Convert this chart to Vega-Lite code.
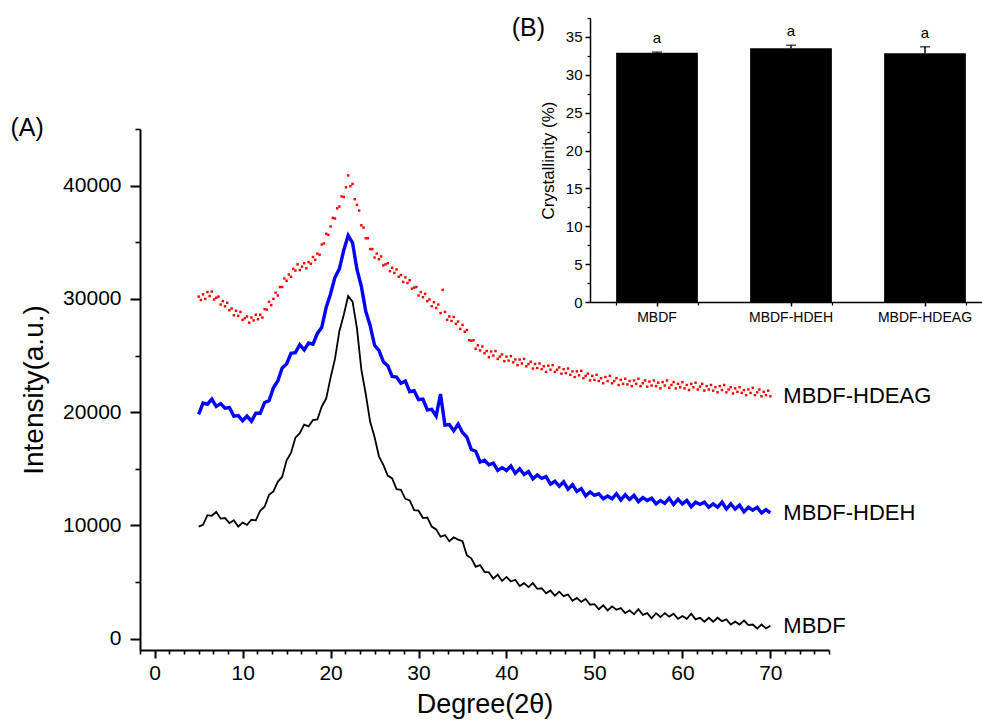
{
"$schema": "https://vega.github.io/schema/vega-lite/v6.json",
"width": 689,
"height": 521,
"autosize": {"type": "none"},
"padding": {"left": 140, "top": 129, "right": 153, "bottom": 76},
"background": "white",
"config": {
  "view": {"stroke": null},
  "axis": {"grid": false, "domainColor": "#000", "tickColor": "#000", "labelColor": "#000", "titleColor": "#000", "labelFont": "Liberation Sans", "titleFont": "Liberation Sans", "titleFontWeight": "normal"},
  "text": {"font": "Liberation Sans", "color": "#000"}
},
"datasets": {
  "mbdf": [
    {"degree":5,"intensity":9900},{"degree":5.5,"intensity":10050},{"degree":6,"intensity":10900},{"degree":6.5,"intensity":10850},{"degree":7,"intensity":11200},{"degree":7.5,"intensity":10600},{"degree":8,"intensity":10650},{"degree":8.5,"intensity":10200},{"degree":9,"intensity":10450},{"degree":9.5,"intensity":9900},
    {"degree":10,"intensity":10250},{"degree":10.5,"intensity":10050},{"degree":11,"intensity":10500},{"degree":11.5,"intensity":10450},{"degree":12,"intensity":11300},{"degree":12.5,"intensity":11650},{"degree":13,"intensity":12700},{"degree":13.5,"intensity":13000},{"degree":14,"intensity":13850},{"degree":14.5,"intensity":14300},
    {"degree":15,"intensity":15750},{"degree":15.5,"intensity":16400},{"degree":16,"intensity":17750},{"degree":16.5,"intensity":18150},{"degree":17,"intensity":18900},{"degree":17.5,"intensity":18750},{"degree":18,"intensity":19300},{"degree":18.5,"intensity":19350},{"degree":19,"intensity":20500},{"degree":19.5,"intensity":21200},
    {"degree":20,"intensity":23050},{"degree":20.5,"intensity":24700},{"degree":21,"intensity":27150},{"degree":21.5,"intensity":28600},{"degree":22,"intensity":30250},{"degree":22.5,"intensity":29750},{"degree":23,"intensity":27400},{"degree":23.5,"intensity":23750},{"degree":24,"intensity":21600},{"degree":24.5,"intensity":19150},
    {"degree":25,"intensity":17800},{"degree":25.5,"intensity":16100},{"degree":26,"intensity":15350},{"degree":26.5,"intensity":14400},{"degree":27,"intensity":14150},{"degree":27.5,"intensity":13200},{"degree":28,"intensity":13150},{"degree":28.5,"intensity":12350},{"degree":29,"intensity":12200},{"degree":29.5,"intensity":11350},
    {"degree":30,"intensity":11300},{"degree":30.5,"intensity":10650},{"degree":31,"intensity":10700},{"degree":31.5,"intensity":9900},{"degree":32,"intensity":9650},{"degree":32.5,"intensity":9000},{"degree":33,"intensity":9150},{"degree":33.5,"intensity":8600},{"degree":34,"intensity":8950},{"degree":34.5,"intensity":8750},
    {"degree":35,"intensity":8600},{"degree":35.5,"intensity":7350},{"degree":36,"intensity":7100},{"degree":36.5,"intensity":6350},{"degree":37,"intensity":6500},{"degree":37.5,"intensity":5900},{"degree":38,"intensity":5850},{"degree":38.5,"intensity":5300},{"degree":39,"intensity":5650},{"degree":39.5,"intensity":5100},
    {"degree":40,"intensity":5450},{"degree":40.5,"intensity":5050},{"degree":41,"intensity":5200},{"degree":41.5,"intensity":4650},{"degree":42,"intensity":4900},{"degree":42.5,"intensity":4550},{"degree":43,"intensity":4900},{"degree":43.5,"intensity":4400},{"degree":44,"intensity":4450},{"degree":44.5,"intensity":4000},
    {"degree":45,"intensity":4250},{"degree":45.5,"intensity":3800},{"degree":46,"intensity":4150},{"degree":46.5,"intensity":3750},{"degree":47,"intensity":3900},{"degree":47.5,"intensity":3350},{"degree":48,"intensity":3600},{"degree":48.5,"intensity":3250},{"degree":49,"intensity":3500},{"degree":49.5,"intensity":3000},
    {"degree":50,"intensity":3050},{"degree":50.5,"intensity":2600},{"degree":51,"intensity":2950},{"degree":51.5,"intensity":2500},{"degree":52,"intensity":2850},{"degree":52.5,"intensity":2550},{"degree":53,"intensity":2700},{"degree":53.5,"intensity":2250},{"degree":54,"intensity":2500},{"degree":54.5,"intensity":2150},
    {"degree":55,"intensity":2600},{"degree":55.5,"intensity":2100},{"degree":56,"intensity":2250},{"degree":56.5,"intensity":1800},{"degree":57,"intensity":2250},{"degree":57.5,"intensity":1900},{"degree":58,"intensity":2250},{"degree":58.5,"intensity":1950},{"degree":59,"intensity":2200},{"degree":59.5,"intensity":1750},
    {"degree":60,"intensity":2000},{"degree":60.5,"intensity":1750},{"degree":61,"intensity":2200},{"degree":61.5,"intensity":1700},{"degree":62,"intensity":1850},{"degree":62.5,"intensity":1500},{"degree":63,"intensity":1850},{"degree":63.5,"intensity":1500},{"degree":64,"intensity":1850},{"degree":64.5,"intensity":1550},
    {"degree":65,"intensity":1700},{"degree":65.5,"intensity":1250},{"degree":66,"intensity":1500},{"degree":66.5,"intensity":1250},{"degree":67,"intensity":1600},{"degree":67.5,"intensity":1200},{"degree":68,"intensity":1250},{"degree":68.5,"intensity":900},{"degree":69,"intensity":1250},{"degree":69.5,"intensity":900},
    {"degree":70,"intensity":1150}
  ],
  "hdeh": [
    {"degree":5,"intensity":19800},{"degree":5.5,"intensity":20800},{"degree":6,"intensity":20700},{"degree":6.5,"intensity":21150},{"degree":7,"intensity":20500},{"degree":7.5,"intensity":20750},{"degree":8,"intensity":20350},{"degree":8.5,"intensity":20400},{"degree":9,"intensity":19650},{"degree":9.5,"intensity":19700},
    {"degree":10,"intensity":19250},{"degree":10.5,"intensity":19650},{"degree":11,"intensity":19200},{"degree":11.5,"intensity":19900},{"degree":12,"intensity":19900},{"degree":12.5,"intensity":20850},{"degree":13,"intensity":21000},{"degree":13.5,"intensity":22150},{"degree":14,"intensity":22750},{"degree":14.5,"intensity":23900},
    {"degree":15,"intensity":24250},{"degree":15.5,"intensity":25200},{"degree":16,"intensity":25250},{"degree":16.5,"intensity":25950},{"degree":17,"intensity":25500},{"degree":17.5,"intensity":26100},{"degree":18,"intensity":26000},{"degree":18.5,"intensity":26950},{"degree":19,"intensity":27500},{"degree":19.5,"intensity":29250},
    {"degree":20,"intensity":30450},{"degree":20.5,"intensity":31900},{"degree":21,"intensity":32650},{"degree":21.5,"intensity":34300},{"degree":22,"intensity":35600},{"degree":22.5,"intensity":34950},{"degree":23,"intensity":32600},{"degree":23.5,"intensity":31100},{"degree":24,"intensity":28900},{"degree":24.5,"intensity":27650},
    {"degree":25,"intensity":25900},{"degree":25.5,"intensity":25450},{"degree":26,"intensity":24450},{"degree":26.5,"intensity":24100},{"degree":27,"intensity":23150},{"degree":27.5,"intensity":23100},{"degree":28,"intensity":22550},{"degree":28.5,"intensity":22750},{"degree":29,"intensity":21800},{"degree":29.5,"intensity":21900},
    {"degree":30,"intensity":21100},{"degree":30.5,"intensity":21150},{"degree":31,"intensity":20200},{"degree":31.5,"intensity":20250},{"degree":32,"intensity":19650},{"degree":32.5,"intensity":21600},{"degree":33,"intensity":18850},{"degree":33.5,"intensity":18900},{"degree":34,"intensity":18350},{"degree":34.5,"intensity":18950},
    {"degree":35,"intensity":18200},{"degree":35.5,"intensity":17800},{"degree":36,"intensity":16700},{"degree":36.5,"intensity":16550},{"degree":37,"intensity":15600},{"degree":37.5,"intensity":15750},{"degree":38,"intensity":15350},{"degree":38.5,"intensity":15500},{"degree":39,"intensity":14850},{"degree":39.5,"intensity":15100},
    {"degree":40,"intensity":14850},{"degree":40.5,"intensity":15250},{"degree":41,"intensity":14600},{"degree":41.5,"intensity":15000},{"degree":42,"intensity":14500},{"degree":42.5,"intensity":14750},{"degree":43,"intensity":14100},{"degree":43.5,"intensity":14450},{"degree":44,"intensity":14150},{"degree":44.5,"intensity":14300},
    {"degree":45,"intensity":13650},{"degree":45.5,"intensity":13900},{"degree":46,"intensity":13450},{"degree":46.5,"intensity":13850},{"degree":47,"intensity":13200},{"degree":47.5,"intensity":13600},{"degree":48,"intensity":13000},{"degree":48.5,"intensity":13250},{"degree":49,"intensity":12600},{"degree":49.5,"intensity":12950},
    {"degree":50,"intensity":12650},{"degree":50.5,"intensity":12800},{"degree":51,"intensity":12350},{"degree":51.5,"intensity":12600},{"degree":52,"intensity":12350},{"degree":52.5,"intensity":12800},{"degree":53,"intensity":12250},{"degree":53.5,"intensity":12700},{"degree":54,"intensity":12300},{"degree":54.5,"intensity":12650},
    {"degree":55,"intensity":12100},{"degree":55.5,"intensity":12450},{"degree":56,"intensity":12200},{"degree":56.5,"intensity":12400},{"degree":57,"intensity":11900},{"degree":57.5,"intensity":12200},{"degree":58,"intensity":11950},{"degree":58.5,"intensity":12400},{"degree":59,"intensity":11850},{"degree":59.5,"intensity":12300},
    {"degree":60,"intensity":11900},{"degree":60.5,"intensity":12200},{"degree":61,"intensity":11650},{"degree":61.5,"intensity":12050},{"degree":62,"intensity":11850},{"degree":62.5,"intensity":12050},{"degree":63,"intensity":11600},{"degree":63.5,"intensity":11900},{"degree":64,"intensity":11600},{"degree":64.5,"intensity":12050},
    {"degree":65,"intensity":11450},{"degree":65.5,"intensity":11900},{"degree":66,"intensity":11450},{"degree":66.5,"intensity":11800},{"degree":67,"intensity":11200},{"degree":67.5,"intensity":11600},{"degree":68,"intensity":11350},{"degree":68.5,"intensity":11600},{"degree":69,"intensity":11100},{"degree":69.5,"intensity":11400},
    {"degree":70,"intensity":11100}
  ],
  "hdeag": [
    {"degree":5,"intensity":30200},{"degree":5.25,"intensity":29900},{"degree":5.5,"intensity":30400},{"degree":5.75,"intensity":30000},{"degree":6,"intensity":30600},{"degree":6.25,"intensity":30250},{"degree":6.5,"intensity":30650},{"degree":6.75,"intensity":29950},{"degree":7,"intensity":30100},{"degree":7.25,"intensity":30200},
    {"degree":7.5,"intensity":29500},{"degree":7.75,"intensity":29800},{"degree":8,"intensity":29350},{"degree":8.25,"intensity":29650},{"degree":8.5,"intensity":29000},{"degree":8.75,"intensity":29150},{"degree":9,"intensity":28550},{"degree":9.25,"intensity":28950},{"degree":9.5,"intensity":28500},{"degree":9.75,"intensity":28850},
    {"degree":10,"intensity":28150},{"degree":10.25,"intensity":28300},{"degree":10.5,"intensity":28450},{"degree":10.75,"intensity":27900},{"degree":11,"intensity":28350},{"degree":11.25,"intensity":28100},{"degree":11.5,"intensity":28600},{"degree":11.75,"intensity":28200},{"degree":12,"intensity":28600},{"degree":12.25,"intensity":28350},
    {"degree":12.5,"intensity":29100},{"degree":12.75,"intensity":29050},{"degree":13,"intensity":29750},{"degree":13.25,"intensity":29450},{"degree":13.5,"intensity":30000},{"degree":13.75,"intensity":30550},{"degree":14,"intensity":30300},{"degree":14.25,"intensity":31050},{"degree":14.5,"intensity":31050},{"degree":14.75,"intensity":31800},
    {"degree":15,"intensity":31600},{"degree":15.25,"intensity":32150},{"degree":15.5,"intensity":31950},{"degree":15.75,"intensity":32650},{"degree":16,"intensity":32500},{"degree":16.25,"intensity":33050},{"degree":16.5,"intensity":32550},{"degree":16.75,"intensity":32850},{"degree":17,"intensity":33150},{"degree":17.25,"intensity":32700},
    {"degree":17.5,"intensity":33250},{"degree":17.75,"intensity":33100},{"degree":18,"intensity":33700},{"degree":18.25,"intensity":33450},{"degree":18.5,"intensity":34000},{"degree":18.75,"intensity":33900},{"degree":19,"intensity":34800},{"degree":19.25,"intensity":34900},{"degree":19.5,"intensity":35750},{"degree":19.75,"intensity":35650},
    {"degree":20,"intensity":36400},{"degree":20.25,"intensity":37150},{"degree":20.5,"intensity":37100},{"degree":20.75,"intensity":38000},{"degree":21,"intensity":38150},{"degree":21.25,"intensity":39050},{"degree":21.5,"intensity":39000},{"degree":21.75,"intensity":39850},{"degree":22,"intensity":40900},{"degree":22.25,"intensity":39950},
    {"degree":22.5,"intensity":40150},{"degree":22.75,"intensity":38800},{"degree":23,"intensity":38300},{"degree":23.25,"intensity":37800},{"degree":23.5,"intensity":36500},{"degree":23.75,"intensity":36300},{"degree":24,"intensity":35350},{"degree":24.25,"intensity":35350},{"degree":24.5,"intensity":34400},{"degree":24.75,"intensity":34400},
    {"degree":25,"intensity":33650},{"degree":25.25,"intensity":34000},{"degree":25.5,"intensity":33500},{"degree":25.75,"intensity":33750},{"degree":26,"intensity":32950},{"degree":26.25,"intensity":33050},{"degree":26.5,"intensity":33150},{"degree":26.75,"intensity":32450},{"degree":27,"intensity":32750},{"degree":27.25,"intensity":32300},
    {"degree":27.5,"intensity":32600},{"degree":27.75,"intensity":31950},{"degree":28,"intensity":32100},{"degree":28.25,"intensity":31500},{"degree":28.5,"intensity":31900},{"degree":28.75,"intensity":31400},{"degree":29,"intensity":31650},{"degree":29.25,"intensity":30900},{"degree":29.5,"intensity":31000},{"degree":29.75,"intensity":31050},
    {"degree":30,"intensity":30300},{"degree":30.25,"intensity":30600},{"degree":30.5,"intensity":30150},{"degree":30.75,"intensity":30450},{"degree":31,"intensity":29800},{"degree":31.25,"intensity":29950},{"degree":31.5,"intensity":29350},{"degree":31.75,"intensity":29700},{"degree":32,"intensity":29200},{"degree":32.25,"intensity":29500},
    {"degree":32.5,"intensity":28750},{"degree":32.75,"intensity":30800},{"degree":33,"intensity":28850},{"degree":33.25,"intensity":28150},{"degree":33.5,"intensity":28450},{"degree":33.75,"intensity":28050},{"degree":34,"intensity":28400},{"degree":34.25,"intensity":27800},{"degree":34.5,"intensity":28000},{"degree":34.75,"intensity":27350},
    {"degree":35,"intensity":27700},{"degree":35.25,"intensity":27100},{"degree":35.5,"intensity":27250},{"degree":35.75,"intensity":26350},{"degree":36,"intensity":26300},{"degree":36.25,"intensity":26350},{"degree":36.5,"intensity":25600},{"degree":36.75,"intensity":25900},{"degree":37,"intensity":25450},{"degree":37.25,"intensity":25800},
    {"degree":37.5,"intensity":25200},{"degree":37.75,"intensity":25400},{"degree":38,"intensity":24850},{"degree":38.25,"intensity":25350},{"degree":38.5,"intensity":25000},{"degree":38.75,"intensity":25400},{"degree":39,"intensity":24700},{"degree":39.25,"intensity":24900},{"degree":39.5,"intensity":25100},{"degree":39.75,"intensity":24500},
    {"degree":40,"intensity":24900},{"degree":40.25,"intensity":24550},{"degree":40.5,"intensity":24950},{"degree":40.75,"intensity":24400},{"degree":41,"intensity":24650},{"degree":41.25,"intensity":24150},{"degree":41.5,"intensity":24650},{"degree":41.75,"intensity":24300},{"degree":42,"intensity":24700},{"degree":42.25,"intensity":24050},
    {"degree":42.5,"intensity":24250},{"degree":42.75,"intensity":24450},{"degree":43,"intensity":23850},{"degree":43.25,"intensity":24250},{"degree":43.5,"intensity":23900},{"degree":43.75,"intensity":24300},{"degree":44,"intensity":23800},{"degree":44.25,"intensity":24050},{"degree":44.5,"intensity":23550},{"degree":44.75,"intensity":24100},
    {"degree":45,"intensity":23750},{"degree":45.25,"intensity":24150},{"degree":45.5,"intensity":23550},{"degree":45.75,"intensity":23750},{"degree":46,"intensity":23950},{"degree":46.25,"intensity":23400},{"degree":46.5,"intensity":23800},{"degree":46.75,"intensity":23450},{"degree":47,"intensity":23850},{"degree":47.25,"intensity":23300},
    {"degree":47.5,"intensity":23600},{"degree":47.75,"intensity":23100},{"degree":48,"intensity":23600},{"degree":48.25,"intensity":23250},{"degree":48.5,"intensity":23650},{"degree":48.75,"intensity":23000},{"degree":49,"intensity":23200},{"degree":49.25,"intensity":23400},{"degree":49.5,"intensity":22800},{"degree":49.75,"intensity":23200},
    {"degree":50,"intensity":22850},{"degree":50.25,"intensity":23300},{"degree":50.5,"intensity":22750},{"degree":50.75,"intensity":23000},{"degree":51,"intensity":22550},{"degree":51.25,"intensity":23100},{"degree":51.5,"intensity":22750},{"degree":51.75,"intensity":23200},{"degree":52,"intensity":22550},{"degree":52.25,"intensity":22750},
    {"degree":52.5,"intensity":23000},{"degree":52.75,"intensity":22400},{"degree":53,"intensity":22850},{"degree":53.25,"intensity":22500},{"degree":53.5,"intensity":22950},{"degree":53.75,"intensity":22450},{"degree":54,"intensity":22750},{"degree":54.25,"intensity":22300},{"degree":54.5,"intensity":22800},{"degree":54.75,"intensity":22500},
    {"degree":55,"intensity":22950},{"degree":55.25,"intensity":22300},{"degree":55.5,"intensity":22550},{"degree":55.75,"intensity":22800},{"degree":56,"intensity":22250},{"degree":56.25,"intensity":22700},{"degree":56.5,"intensity":22350},{"degree":56.75,"intensity":22800},{"degree":57,"intensity":22300},{"degree":57.25,"intensity":22600},
    {"degree":57.5,"intensity":22100},{"degree":57.75,"intensity":22650},{"degree":58,"intensity":22350},{"degree":58.25,"intensity":22800},{"degree":58.5,"intensity":22150},{"degree":58.75,"intensity":22400},{"degree":59,"intensity":22650},{"degree":59.25,"intensity":22100},{"degree":59.5,"intensity":22500},{"degree":59.75,"intensity":22200},
    {"degree":60,"intensity":22650},{"degree":60.25,"intensity":22100},{"degree":60.5,"intensity":22400},{"degree":60.75,"intensity":21950},{"degree":61,"intensity":22500},{"degree":61.25,"intensity":22200},{"degree":61.5,"intensity":22600},{"degree":61.75,"intensity":22000},{"degree":62,"intensity":22250},{"degree":62.25,"intensity":22500},
    {"degree":62.5,"intensity":21900},{"degree":62.75,"intensity":22300},{"degree":63,"intensity":22000},{"degree":63.25,"intensity":22400},{"degree":63.5,"intensity":21900},{"degree":63.75,"intensity":22200},{"degree":64,"intensity":21750},{"degree":64.25,"intensity":22300},{"degree":64.5,"intensity":21950},{"degree":64.75,"intensity":22400},
    {"degree":65,"intensity":21750},{"degree":65.25,"intensity":22000},{"degree":65.5,"intensity":22200},{"degree":65.75,"intensity":21650},{"degree":66,"intensity":22100},{"degree":66.25,"intensity":21800},{"degree":66.5,"intensity":22200},{"degree":66.75,"intensity":21700},{"degree":67,"intensity":21950},{"degree":67.25,"intensity":21500},
    {"degree":67.5,"intensity":22000},{"degree":67.75,"intensity":21700},{"degree":68,"intensity":22150},{"degree":68.25,"intensity":21500},{"degree":68.5,"intensity":21750},{"degree":68.75,"intensity":22000},{"degree":69,"intensity":21400},{"degree":69.25,"intensity":21800},{"degree":69.5,"intensity":21500},{"degree":69.75,"intensity":21900},
    {"degree":70,"intensity":21400}
  ],
  "crystallinity": [
    {"sample":"MBDF","crystallinity":32.9,"upper":33.0,"letter":"a"},
    {"sample":"MBDF-HDEH","crystallinity":33.5,"upper":33.9,"letter":"a"},
    {"sample":"MBDF-HDEAG","crystallinity":32.85,"upper":33.7,"letter":"a"}
  ]
},
"layer": [
  {
    "layer": [
      {
        "data": {"name": "mbdf"},
        "mark": {"type": "line", "color": "#000000", "strokeWidth": 1.8},
        "encoding": {
          "x": {"field": "degree", "type": "quantitative",
                "scale": {"domain": [-1.667, 76.667], "nice": false, "zero": false},
                "axis": {"orient": "bottom", "values": [0,10,20,30,40,50,60,70], "title": "Degree(2θ)", "labelFontSize": 21, "titleFontSize": 27, "tickSize": 8, "tickWidth": 2, "domainWidth": 2, "labelPadding": 4, "titlePadding": 8, "labelFlush": false, "labelOverlap": false}},
          "y": {"field": "intensity", "type": "quantitative",
                "scale": {"domain": [-1000, 45000], "nice": false, "zero": false},
                "axis": {"orient": "left", "values": [0,10000,20000,30000,40000], "format": "d", "title": "Intensity(a.u.)", "labelFontSize": 21, "titleFontSize": 28, "tickSize": 10, "tickWidth": 2, "domainWidth": 2, "labelPadding": 9, "titlePadding": 14, "labelOverlap": false}}
        }
      },
      {
        "data": {"name": "hdeh"},
        "mark": {"type": "line", "color": "#0000ff", "strokeWidth": 3.4},
        "encoding": {
          "x": {"field": "degree", "type": "quantitative", "axis": null},
          "y": {"field": "intensity", "type": "quantitative", "axis": null}
        }
      },
      {
        "data": {"name": "hdeag"},
        "mark": {"type": "point", "shape": "square", "filled": true, "color": "#ff0000", "size": 6, "opacity": 1},
        "encoding": {
          "x": {"field": "degree", "type": "quantitative", "axis": null},
          "y": {"field": "intensity", "type": "quantitative", "axis": null}
        }
      },
      {
        "data": {"name": "mbdf"},
        "transform": [{"filter": "datum.degree == 70"}],
        "mark": {"type": "text", "align": "left", "baseline": "middle", "dx": 13, "fontSize": 22},
        "encoding": {
          "x": {"field": "degree", "type": "quantitative", "axis": null},
          "y": {"field": "intensity", "type": "quantitative", "axis": null},
          "text": {"value": "MBDF"}
        }
      },
      {
        "data": {"name": "hdeh"},
        "transform": [{"filter": "datum.degree == 70"}],
        "mark": {"type": "text", "align": "left", "baseline": "middle", "dx": 13, "fontSize": 22},
        "encoding": {
          "x": {"field": "degree", "type": "quantitative", "axis": null},
          "y": {"field": "intensity", "type": "quantitative", "axis": null},
          "text": {"value": "MBDF-HDEH"}
        }
      },
      {
        "data": {"name": "hdeag"},
        "transform": [{"filter": "datum.degree == 70"}],
        "mark": {"type": "text", "align": "left", "baseline": "middle", "dx": 13, "fontSize": 22},
        "encoding": {
          "x": {"field": "degree", "type": "quantitative", "axis": null},
          "y": {"field": "intensity", "type": "quantitative", "axis": null},
          "text": {"value": "MBDF-HDEAG"}
        }
      },
      {
        "data": {"values": [{"panel": "(A)"}]},
        "mark": {"type": "text", "align": "left", "baseline": "middle", "fontSize": 25},
        "encoding": {
          "x": {"datum": -16.4, "type": "quantitative", "axis": null},
          "y": {"datum": 45100, "type": "quantitative", "axis": null},
          "text": {"field": "panel"}
        }
      },
      {
        "data": {"values": [{"panel": "(B)"}]},
        "mark": {"type": "text", "align": "left", "baseline": "middle", "fontSize": 25},
        "encoding": {
          "x": {"datum": 40.6, "type": "quantitative", "axis": null},
          "y": {"datum": 53900, "type": "quantitative", "axis": null},
          "text": {"field": "panel"}
        }
      },
      {
        "data": {"name": "mbdf"},
        "mark": {"type": "line", "opacity": 0},
        "encoding": {
          "x": {"field": "degree", "type": "quantitative",
                "axis": {"orient": "bottom", "values": [-1.667,1.667,3.333,5,6.667,8.333,11.667,13.333,15,16.667,18.333,21.667,23.333,25,26.667,28.333,31.667,33.333,35,36.667,38.333,41.667,43.333,45,46.667,48.333,51.667,53.333,55,56.667,58.333,61.667,63.333,65,66.667,68.333,71.667,73.333,75,76.667], "labels": false, "domain": false, "title": null, "tickSize": 4, "tickWidth": 1.6}},
          "y": {"field": "intensity", "type": "quantitative",
                "axis": {"orient": "left", "values": [5000,15000,25000,35000,45000], "labels": false, "domain": false, "title": null, "tickSize": 5, "tickWidth": 1.6}}
        }
      }
    ],
    "resolve": {"axis": {"x": "independent", "y": "independent"}}
  },
  {
    "data": {"name": "crystallinity"},
    "layer": [
      {
        "mark": {"type": "bar", "color": "#000000"},
        "encoding": {
          "x": {"field": "sample", "type": "nominal", "sort": null,
                "scale": {"range": [450, 852], "paddingInner": 0.39, "paddingOuter": 0.195},
                "axis": {"orient": "bottom", "offset": -348, "title": null, "labelAngle": 0, "labelFontSize": 14, "tickSize": 4, "tickWidth": 1.5, "domainWidth": 1.5, "labelPadding": 4}},
          "y": {"field": "crystallinity", "type": "quantitative",
                "scale": {"domain": [0, 37.5], "range": [173, -111], "nice": false, "zero": true},
                "axis": {"orient": "left", "offset": -450, "values": [0,5,10,15,20,25,30,35], "title": "Crystallinity (%)", "titleFontSize": 17, "labelFontSize": 15, "tickSize": 5, "tickWidth": 1.5, "domainWidth": 1.5, "labelPadding": 3, "titlePadding": 8}}
        }
      },
      {
        "mark": {"type": "rule", "color": "#000000", "strokeWidth": 1.5},
        "encoding": {
          "x": {"field": "sample", "type": "nominal", "sort": null, "axis": null},
          "y": {"field": "crystallinity", "type": "quantitative", "axis": null},
          "y2": {"field": "upper"}
        }
      },
      {
        "mark": {"type": "tick", "color": "#000000", "size": 10, "thickness": 1.5},
        "encoding": {
          "x": {"field": "sample", "type": "nominal", "sort": null, "axis": null},
          "y": {"field": "upper", "type": "quantitative", "axis": null}
        }
      },
      {
        "mark": {"type": "text", "baseline": "alphabetic", "dy": -9, "fontSize": 15},
        "encoding": {
          "x": {"field": "sample", "type": "nominal", "sort": null, "axis": null},
          "y": {"field": "upper", "type": "quantitative", "axis": null},
          "text": {"field": "letter"}
        }
      },
      {
        "mark": {"type": "tick", "opacity": 0},
        "encoding": {
          "x": {"field": "sample", "type": "nominal", "sort": null,
                "axis": {"orient": "bottom", "offset": -348, "tickBand": "extent", "labels": false, "domain": false, "title": null, "tickSize": 3, "tickWidth": 1.2}},
          "y": {"field": "crystallinity", "type": "quantitative",
                "axis": {"orient": "left", "offset": -450, "values": [2.5,7.5,12.5,17.5,22.5,27.5,32.5,37.5], "labels": false, "domain": false, "title": null, "tickSize": 3, "tickWidth": 1.2}}
        }
      }
    ],
    "resolve": {"axis": {"x": "independent", "y": "independent"}}
  }
],
"resolve": {"scale": {"x": "independent", "y": "independent"}}
}
